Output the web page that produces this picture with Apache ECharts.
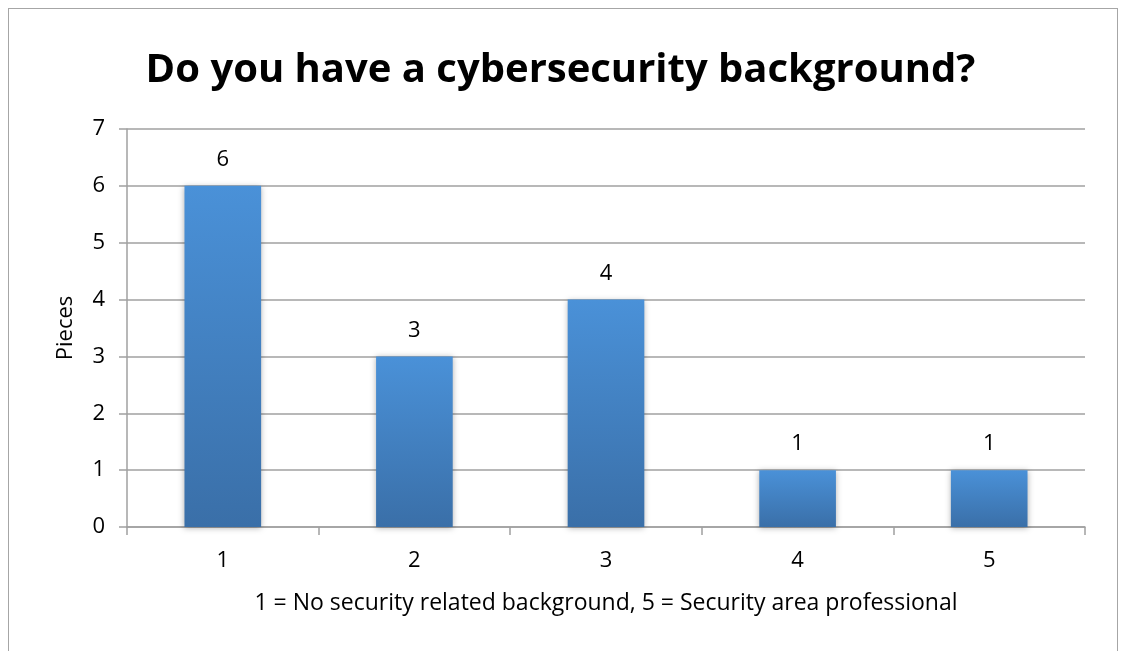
<!DOCTYPE html>
<html>
<head>
<meta charset="utf-8">
<script src="https://cdn.jsdelivr.net/npm/echarts@6/dist/echarts.min.js"></script>
<style>
  html, body { margin: 0; padding: 0; background: #ffffff; }
  #frame { position: absolute; left: 8px; top: 8px; width: 1110px; height: 660px; border: 1px solid #a6a6a6; box-sizing: border-box; }
  #chart { width: 1121px; height: 651px; position: absolute; left: 0; top: 0; }
</style>
</head>
<body>
<div id="frame"></div>
<div id="chart"></div>
<script>
// Survey answers: self-rated cybersecurity background
const categories = ['1', '2', '3', '4', '5'];
const pieces = [6, 3, 4, 1, 1];
const yTicks = [0, 1, 2, 3, 4, 5, 6, 7];

const chart = echarts.init(document.getElementById('chart'));
const font = '"Open Sans", "DejaVu Sans", sans-serif';

chart.setOption({
  animation: false,
  title: {
    text: 'Do you have a cybersecurity background?',
    left: 'center',
    top: 46,
    textStyle: { fontFamily: font, fontWeight: 'bold', fontSize: 40, color: '#000' }
  },
  grid: { left: 127, right: 36, top: 129, bottom: 124, containLabel: false },
  xAxis: {
    type: 'category',
    data: categories,
    name: '1 = No security related background, 5 = Security area professional',
    nameLocation: 'middle',
    nameGap: 65,
    nameTextStyle: { fontFamily: font, fontSize: 23, color: '#000' },
    axisLine: { lineStyle: { color: '#a0a0a0', width: 1.5 } },
    axisTick: { show: true, length: 8, alignWithLabel: false, lineStyle: { color: '#a0a0a0', width: 1.5 } },
    axisLabel: { fontFamily: font, fontSize: 22, color: '#000', margin: 23 }
  },
  yAxis: {
    type: 'value',
    min: yTicks[0],
    max: yTicks[yTicks.length - 1],
    interval: 1,
    name: 'Pieces',
    nameLocation: 'middle',
    nameRotate: 90,
    nameGap: 50,
    nameTextStyle: { fontFamily: font, fontSize: 22, color: '#000' },
    axisLine: { show: true, lineStyle: { color: '#a0a0a0', width: 1.5 } },
    axisTick: { show: true, length: 8, inside: false, lineStyle: { color: '#a0a0a0', width: 1.5 } },
    axisLabel: { fontFamily: font, fontSize: 22, color: '#000', margin: 22 },
    splitLine: { lineStyle: { color: '#a0a0a0', width: 1.5 } }
  },
  series: [{
    type: 'bar',
    data: pieces,
    barWidth: '40%',
    itemStyle: {
      color: new echarts.graphic.LinearGradient(0, 0, 0, 1, [
        { offset: 0, color: '#4a91d8' },
        { offset: 1, color: '#3a6fa8' }
      ]),
      shadowColor: 'rgba(0,0,0,0.3)',
      shadowBlur: 6,
      shadowOffsetX: 0,
      shadowOffsetY: 1
    },
    label: {
      show: true,
      position: 'top',
      distance: 15,
      fontFamily: font,
      fontSize: 22,
      color: '#000'
    }
  }]
});
</script>
</body>
</html>
